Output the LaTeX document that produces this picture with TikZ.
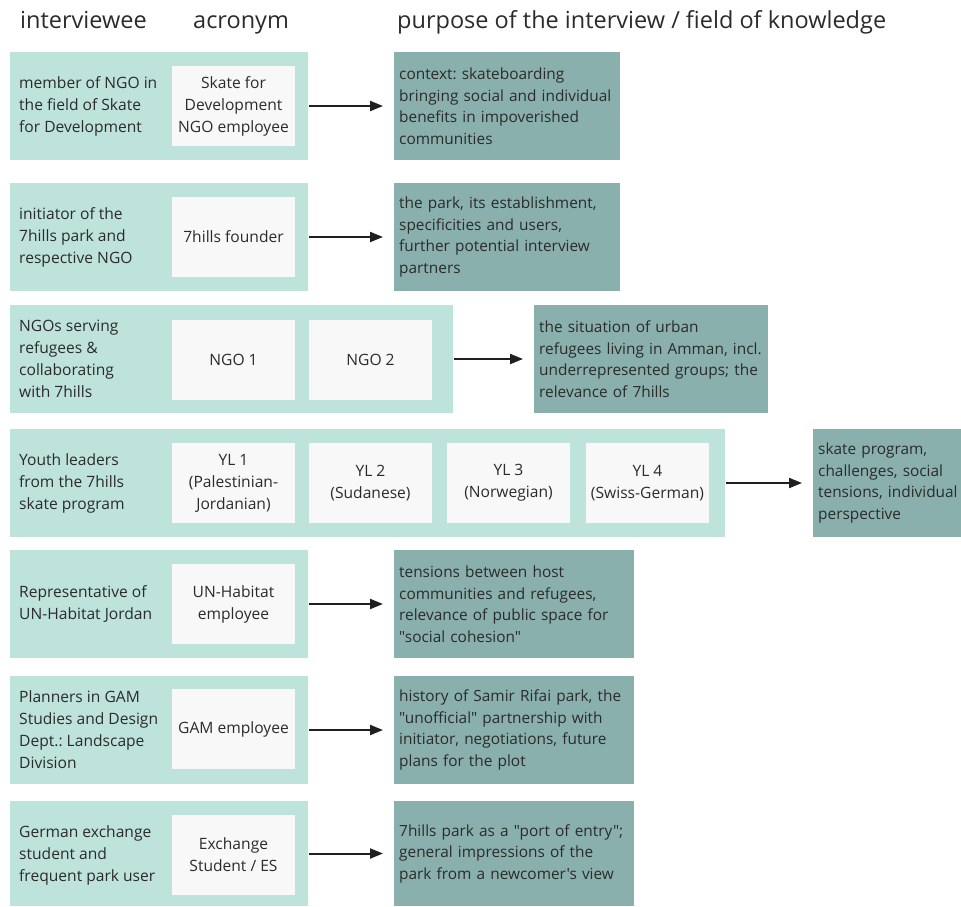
\documentclass[tikz,border=0pt]{standalone}
\usepackage{fontspec}
\setmainfont{Open Sans}[Ligatures=TeXOff]
\usetikzlibrary{arrows.meta}
\definecolor{clrRow} {HTML}{BEE3DA}
\definecolor{clrAcr} {HTML}{F8F8F8}
\definecolor{clrPurp}{HTML}{8AB0AE}
\definecolor{clrTxt} {HTML}{2B2B2B}
\frenchspacing
\tikzset{
  rowbox/.style = {
    rectangle, fill=clrRow, anchor=west,
    minimum height=108pt, inner sep=0pt,
  },
  who/.style = {
    anchor=west, align=left, inner sep=0pt, text=clrTxt,
    font=\fontsize{15.6}{22}\selectfont,
  },
  acr/.style = {
    rectangle, fill=clrAcr, align=center, inner sep=0pt,
    minimum width=123pt, minimum height=80pt, text=clrTxt,
    font=\fontsize{15.6}{22}\selectfont,
  },
  purp/.style = {
    rectangle, fill=clrPurp, anchor=west, align=left,
    minimum height=108pt, inner xsep=5pt, inner ysep=0pt, text=clrTxt,
    font=\fontsize{15.4}{21.5}\selectfont,
  },
  hdr/.style = {anchor=base west, inner sep=0pt, text=clrTxt,
                font=\fontsize{23.5}{28}\selectfont},
  arr/.style = {-{Triangle[length=13pt, width=10pt]}, line width=2pt,
                color=black!88, shorten <=1pt, shorten >=11pt},
}

\begin{document}
\begin{tikzpicture}[x=1pt, y=-1pt]

\useasboundingbox (0,0) rectangle (961,906);

% ══════════════════════════════════════════════════════════════════════════
%  Column headers
% ══════════════════════════════════════════════════════════════════════════

\node[hdr] (h1) at (20,  28) {interviewee};
\node[hdr] (h2) at (193, 28) {acronym};
\node[hdr] (h3) at (397, 28) {purpose of the interview / field of knowledge};

% ══════════════════════════════════════════════════════════════════════════
%  Row backgrounds (interviewee + acronym)
% ══════════════════════════════════════════════════════════════════════════

\node[rowbox, minimum width=298pt] (r1) at (10, 106) {};
\node[rowbox, minimum width=298pt] (r2) at (10, 237) {};
\node[rowbox, minimum width=443pt] (r3) at (10, 359) {};
\node[rowbox, minimum width=715pt] (r4) at (10, 483) {};
\node[rowbox, minimum width=298pt] (r5) at (10, 604) {};
\node[rowbox, minimum width=298pt] (r6) at (10, 730) {};
\node[rowbox, minimum width=298pt, minimum height=105pt] (r7) at (10, 853.5) {};

% ── interviewee texts ──────────────────────────────────────────────────
\node[who] (who1) at (19, 106) {member of NGO in\\the field of Skate\\for Development};
\node[who] (who2) at (19, 237) {initiator of the\\7hills park and\\respective NGO};
\node[who] (who3) at (19, 359) {NGOs serving\\refugees \&\\collaborating\\with 7hills};
\node[who] (who4) at (19, 483) {Youth leaders\\from the 7hills\\skate program};
\node[who] (who5) at (19, 604) {Representative of\\UN-Habitat Jordan};
\node[who] (who6) at (19, 730) {Planners in GAM\\Studies and Design\\Dept.: Landscape\\Division};
\node[who] (who7) at (19, 855) {German exchange\\student and\\frequent park user};

% ── acronyms ───────────────────────────────────────────────────────────
\node[acr] (acr1)  at (233.5, 106) {Skate for\\Development\\NGO employee};
\node[acr] (acr2)  at (233.5, 237) {7hills founder};
\node[acr] (acr3a) at (233.5, 360) {NGO 1};
\node[acr] (acr3b) at (370.5, 360) {NGO 2};
\node[acr] (acr4a) at (233.5, 483) {YL 1\\(Palestinian-\\Jordanian)};
\node[acr] (acr4b) at (370.5, 483) {YL 2\\(Sudanese)};
\node[acr] (acr4c) at (508.5, 483) {YL 3\\(Norwegian)};
\node[acr] (acr4d) at (647.5, 483) {YL 4\\(Swiss-German)};
\node[acr] (acr5)  at (233.5, 604) {UN-Habitat\\employee};
\node[acr] (acr6)  at (233.5, 729) {GAM employee};
\node[acr] (acr7)  at (233.5, 855) {Exchange\\Student / ES};

% ══════════════════════════════════════════════════════════════════════════
%  Purpose / field of knowledge
% ══════════════════════════════════════════════════════════════════════════

\node[purp, text width=216pt] (purp1) at (394, 106)
  {context: skateboarding\\bringing social and individual\\benefits in impoverished\\communities};
\node[purp, text width=216pt] (purp2) at (394, 237)
  {the park, its establishment,\\specificities and users,\\further potential interview\\partners};
\node[purp, text width=224pt] (purp3) at (534, 359)
  {the situation of urban\\refugees living in Amman, incl.\\underrepresented groups; the\\relevance of 7hills};
\node[purp, text width=150pt] (purp4) at (813, 483)
  {skate program,\\challenges, social\\tensions, individual\\perspective};
\node[purp, text width=230pt] (purp5) at (394, 604)
  {tensions between host\\communities and refugees,\\relevance of public space for\\"social cohesion"};
\node[purp, text width=230pt] (purp6) at (394, 730)
  {history of Samir Rifai park, the\\"unofficial" partnership with\\initiator, negotiations, future\\plans for the plot};
\node[purp, text width=230pt, minimum height=105pt] (purp7) at (394, 853.5)
  {7hills park as a "port of entry";\\general impressions of the\\park from a newcomer's view};

% ══════════════════════════════════════════════════════════════════════════
%  Arrows
% ══════════════════════════════════════════════════════════════════════════

\draw[arr] (r1.east) -- (purp1.west);
\draw[arr] (r2.east) -- (purp2.west);
\draw[arr] (r3.east) -- (purp3.west);
\draw[arr] (r4.east) -- (purp4.west);
\draw[arr] (r5.east) -- (purp5.west);
\draw[arr] (r6.east) -- (purp6.west);
\draw[arr] (r7.east) -- (purp7.west);

\end{tikzpicture}
\end{document}
